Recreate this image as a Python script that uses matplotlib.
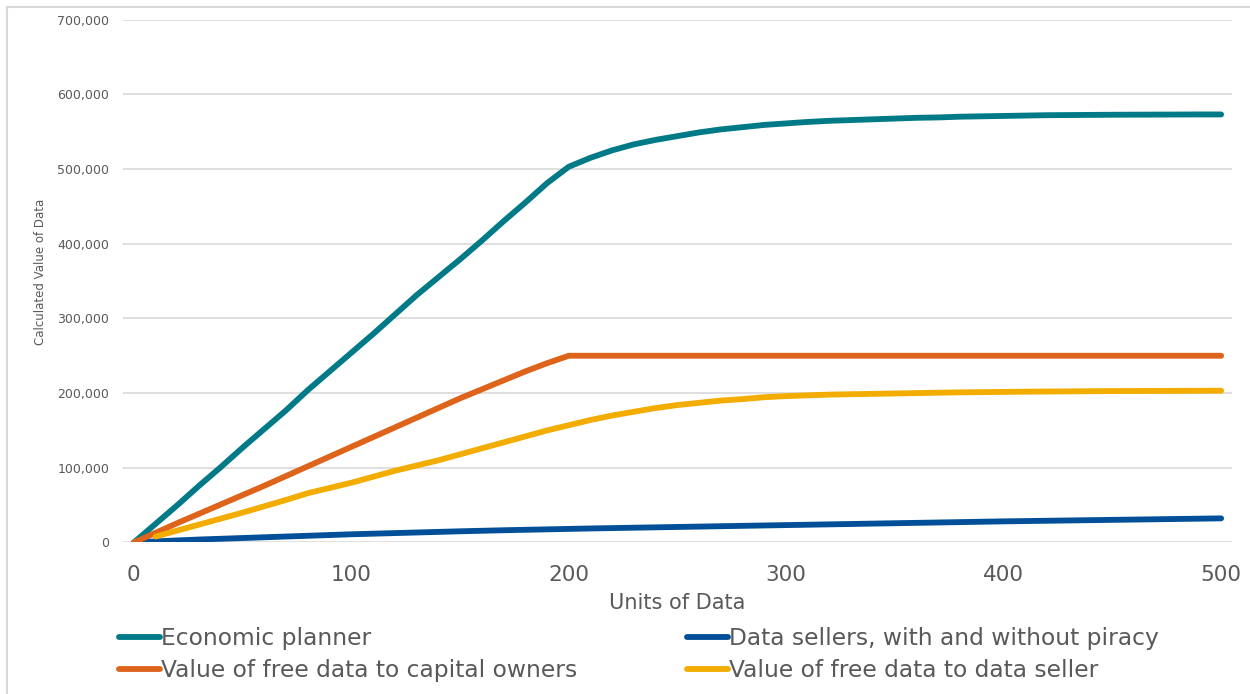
import numpy as np
import matplotlib
matplotlib.use('Agg')
import matplotlib.pyplot as plt
from matplotlib.lines import Line2D
from matplotlib.ticker import FuncFormatter

units = list(range(0, 501, 10))

planner = [0, 25000, 50000, 76000, 101000, 127000, 152000, 177000, 204000, 229000,
           254000, 279000, 305000, 331000, 355000, 379000, 404000, 430000, 455000, 481000,
           503000, 515000, 525000, 533000, 539000, 544000, 549000, 553000, 556000, 559000,
           561000, 563000, 564500, 565500, 566500, 567500, 568500, 569000, 570000, 570500,
           571000, 571500, 572000, 572200, 572400, 572600, 572700, 572800, 572900, 573000,
           573000]

sellers = [0, 1500, 2800, 4000, 5000, 6000, 7000, 8000, 9000, 10000,
           11000, 11800, 12600, 13400, 14200, 15000, 15700, 16400, 17000, 17600,
           18200, 18800, 19300, 19800, 20300, 20800, 21300, 21800, 22300, 22800,
           23300, 23800, 24300, 24800, 25300, 25800, 26300, 26800, 27300, 27800,
           28300, 28700, 29100, 29500, 29900, 30300, 30700, 31100, 31500, 31900,
           32300]

capital_owners = [0, 13000, 26000, 38500, 51000, 63500, 76000, 89000, 102000, 115000,
                  128000, 141000, 154000, 167000, 180000, 193000, 205000, 217000, 229000, 240000,
                  250000, 250000, 250000, 250000, 250000, 250000, 250000, 250000, 250000, 250000,
                  250000, 250000, 250000, 250000, 250000, 250000, 250000, 250000, 250000, 250000,
                  250000, 250000, 250000, 250000, 250000, 250000, 250000, 250000, 250000, 250000,
                  250000]

# no value at zero for the seller series
data_seller = [np.nan, 8000, 16000, 24000, 32000, 40000, 48500, 57000, 66000, 73000,
               80000, 88000, 96000, 103000, 110000, 118000, 126000, 134000, 142000, 150000,
               157000, 164000, 170000, 175000, 180000, 184000, 187000, 190000, 192000, 194500,
               196000, 197000, 198000, 198500, 199000, 199500, 200000, 200500, 201000, 201300,
               201600, 201900, 202100, 202300, 202500, 202700, 202800, 202900, 203000, 203100,
               203200]

labels = ['Economic planner', 'Data sellers, with and without piracy',
          'Value of free data to capital owners', 'Value of free data to data seller']
colors = ['#007A87', '#004F98', '#DE631B', '#F3AC00']

grey = '#595959'
plt.rcParams['font.family'] = 'DejaVu Sans'

fig = plt.figure(figsize=(12.5, 6.94), dpi=100)
ax = fig.add_axes([0.0984, 0.2183, 0.8872, 0.7535])

lines = []
for ys, lab, c in zip([planner, sellers, capital_owners, data_seller], labels, colors):
    ln, = ax.plot(units, ys, color=c, lw=4.2, label=lab,
                  solid_capstyle='round', solid_joinstyle='round')
    lines.append(ln)

ax.set_xlim(-5, 505)
ax.set_ylim(0, 700000)
ax.set_xticks([0, 100, 200, 300, 400, 500])
ax.set_yticks(range(0, 700001, 100000))
ax.yaxis.set_major_formatter(FuncFormatter(lambda v, p: f'{int(v):,}'))
ax.grid(axis='y', color='#d9d9d9', lw=1.2)
ax.set_axisbelow(True)
for s in ax.spines.values():
    s.set_visible(False)
ax.tick_params(axis='y', length=0, pad=10, labelsize=9, labelcolor=grey)
ax.tick_params(axis='x', length=0, pad=16, labelsize=15.5, labelcolor=grey)

ax.set_xlabel('Units of Data', fontsize=15, color=grey)
ax.xaxis.set_label_coords(0.5, -0.1157)
ax.xaxis.label.set_va('center')
ax.set_ylabel('Calculated Value of Data', fontsize=8.5, color=grey,
              family=['Liberation Sans Narrow', 'DejaVu Sans'])
ax.yaxis.set_label_coords(-0.0748, 0.517)
ax.yaxis.label.set_va('center')

# legend: two columns, handles sit right against the text
fig.legend([lines[0], lines[2], lines[1], lines[3]],
           [labels[0], labels[2], labels[1], labels[3]],
           ncol=2, frameon=False, fontsize=16.8, labelcolor=grey,
           handlelength=1.75, handletextpad=0.05, columnspacing=4.7,
           labelspacing=0.38, loc='upper left', bbox_to_anchor=(0.088, 0.11),
           borderaxespad=0)

# thin frame along the top and left edges
fig.add_artist(Line2D([7 / 1250, 1], [1 - 7 / 694, 1 - 7 / 694],
                      transform=fig.transFigure, color='#d9d9d9', lw=1.5))
fig.add_artist(Line2D([7 / 1250, 7 / 1250], [0, 1 - 7 / 694],
                      transform=fig.transFigure, color='#d9d9d9', lw=1.5))

fig.savefig('out.png', dpi=100)
